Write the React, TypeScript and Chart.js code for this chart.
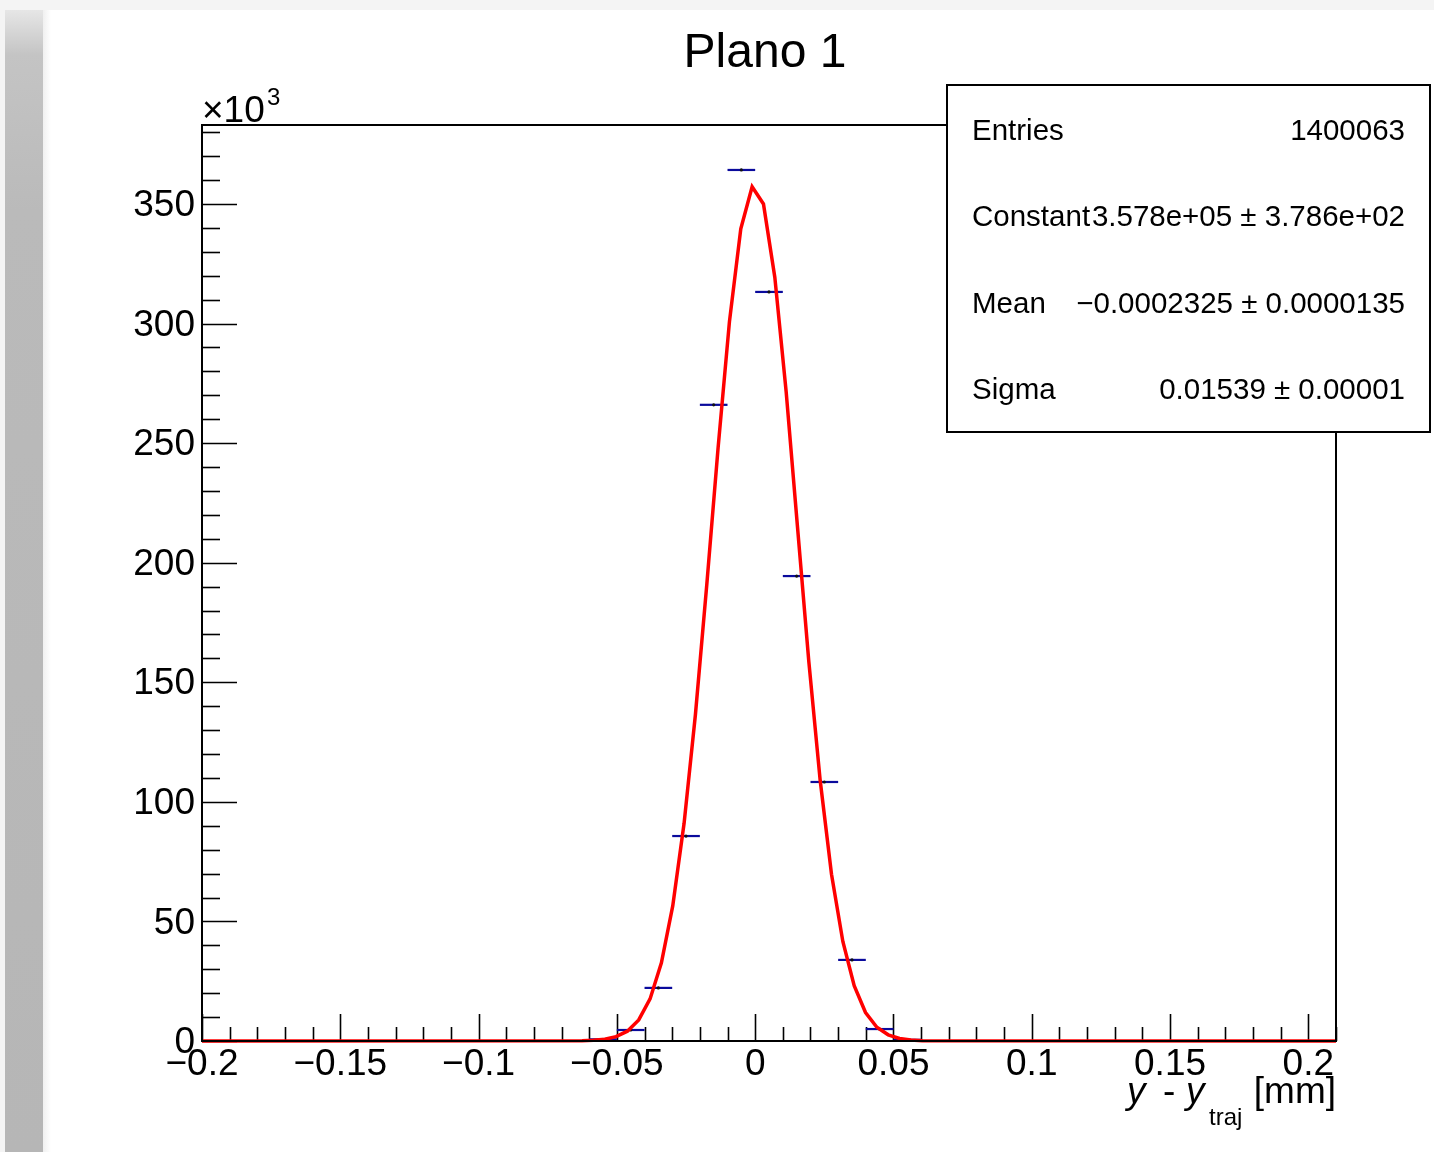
import React, { useEffect, useRef } from "react";
import { Chart, registerables } from "chart.js";

Chart.register(...registerables);

const FONT = "'Liberation Sans', Arial, Helvetica, sans-serif";

// Histogram bins (bin centre, counts), bin width 0.01 mm
const binCenters = [-0.055, -0.045, -0.035, -0.025, -0.015, -0.005, 0.005, 0.015, 0.025, 0.035, 0.045, 0.055];
const binCounts = [700, 4600, 22200, 85700, 266000, 364200, 313200, 194400, 108300, 33900, 5000, 500];
const binWidth = 0.01;

// Fitted Gaussian polyline as drawn (x, y)
const fitX = [
  -0.2, -0.0626, -0.0585, -0.0544, -0.0503, -0.0462, -0.0421, -0.038, -0.0339, -0.0298, -0.0257,
  -0.0216, -0.0175, -0.0134, -0.0093, -0.0052, -0.0011, 0.003, 0.0071, 0.0112, 0.0153, 0.0194,
  0.0235, 0.0276, 0.0317, 0.0358, 0.0399, 0.044, 0.0481, 0.0522, 0.0563, 0.0604, 0.21,
];
const fitY = [
  0, 100, 280, 730, 1800, 4100, 8800, 17600, 32700, 56500, 91000,
  136500, 190700, 248100, 300800, 339600, 357200, 350000, 319400, 271500, 215000, 158600,
  109000, 69700, 41600, 23100, 11900, 5750, 2580, 1080, 420, 150, 0,
];

const xRange = [-0.2, 0.21];
const yRange = [0, 383000];
const xTickValues = [-0.2, -0.15, -0.1, -0.05, 0, 0.05, 0.1, 0.15, 0.2];
const xTickLabels = ["\u22120.2", "\u22120.15", "\u22120.1", "\u22120.05", "0", "0.05", "0.1", "0.15", "0.2"];
const yTickValues = [0, 50000, 100000, 150000, 200000, 250000, 300000, 350000];
const yTickLabels = ["0", "50", "100", "150", "200", "250", "300", "350"];
const xMinorStep = 0.01;
const yMinorStep = 10000;

const titleText = "Plano 1";
const statsLabels = ["Entries", "Constant", "Mean", "Sigma"];
const statsValues = ["1400063", "3.578e+05 \u00b1 3.786e+02", "\u22120.0002325 \u00b1 0.0000135", "0.01539 \u00b1 0.00001"];

const BLUE = "#0a0a9c";
const RED = "#ff0000";

const rootPlugin = {
  id: "rootStyle",
  beforeDatasetsDraw(chart: any) {
    const ctx = chart.ctx;
    const ca = chart.chartArea;
    const xs = chart.scales.x;
    const ys = chart.scales.y;
    ctx.save();
    ctx.strokeStyle = "#000";
    ctx.lineWidth = 1.6;
    const nx = Math.round((xRange[1] - xRange[0]) / xMinorStep);
    for (let i = 0; i <= nx; i++) {
      const v = xRange[0] + i * xMinorStep;
      const major = i % 5 === 0;
      const px = Math.round(xs.getPixelForValue(v)) + 0.5;
      const len = major ? 27 : 14;
      ctx.beginPath();
      ctx.moveTo(px, ca.bottom);
      ctx.lineTo(px, ca.bottom - len);
      ctx.stroke();
    }
    const ny = Math.floor((yRange[1] - yRange[0]) / yMinorStep);
    for (let i = 0; i <= ny; i++) {
      const v = yRange[0] + i * yMinorStep;
      const major = i % 5 === 0;
      const py = Math.round(ys.getPixelForValue(v)) + 0.5;
      const len = major ? 35 : 18;
      ctx.beginPath();
      ctx.moveTo(ca.left, py);
      ctx.lineTo(ca.left + len, py);
      ctx.stroke();
    }
    ctx.restore();
  },
  afterDatasetsDraw(chart: any) {
    const ctx = chart.ctx;
    const ca = chart.chartArea;
    ctx.save();
    ctx.strokeStyle = "#000";
    ctx.lineWidth = 2;
    ctx.strokeRect(ca.left, ca.top, ca.right - ca.left, ca.bottom - ca.top);
    ctx.restore();
  },
  afterDraw(chart: any) {
    const ctx = chart.ctx;
    const ca = chart.chartArea;
    ctx.save();
    ctx.fillStyle = "#000";
    ctx.textBaseline = "alphabetic";

    ctx.font = `48px ${FONT}`;
    ctx.textAlign = "center";
    ctx.fillText(titleText, 765, 67);

    ctx.textAlign = "left";
    ctx.font = `37px ${FONT}`;
    ctx.fillText("\u00d710", ca.left, ca.top - 3);
    ctx.font = `24px ${FONT}`;
    ctx.fillText("3", ca.left + 65, ca.top - 20);

    const r = ca.right;
    const base = ca.bottom + 62;
    ctx.font = `italic 37px ${FONT}`;
    ctx.fillText("y", r - 209, base);
    ctx.font = `37px ${FONT}`;
    ctx.fillText("-", r - 173, base);
    ctx.font = `italic 37px ${FONT}`;
    ctx.fillText("y", r - 150, base);
    ctx.font = `24px ${FONT}`;
    ctx.fillText("traj", r - 127, base + 22);
    ctx.font = `37px ${FONT}`;
    ctx.textAlign = "right";
    ctx.fillText("[mm]", r, base);

    const bx = 947, by = 85, bw = 483, bh = 347;
    ctx.fillStyle = "#fff";
    ctx.fillRect(bx, by, bw, bh);
    ctx.strokeStyle = "#000";
    ctx.lineWidth = 2;
    ctx.strokeRect(bx, by, bw, bh);
    ctx.fillStyle = "#000";
    ctx.font = `29.5px ${FONT}`;
    const rowBase = [140, 226, 313, 399];
    for (let i = 0; i < statsLabels.length; i++) {
      ctx.textAlign = "left";
      ctx.fillText(statsLabels[i], 972, rowBase[i]);
      ctx.textAlign = "right";
      ctx.fillText(statsValues[i], 1405, rowBase[i]);
    }
    ctx.restore();
  },
};

function halfBinPx(ctx: any) {
  const s = ctx.chart.scales.x;
  if (!s) return 13;
  return Math.abs(s.getPixelForValue(binWidth / 2) - s.getPixelForValue(0));
}

export default function App() {
  const ref = useRef<HTMLCanvasElement>(null);

  useEffect(() => {
    if (!ref.current) return;
    const fitData = fitX.map((x, i) => ({ x, y: fitY[i] }));
    const binData = binCenters.map((x, i) => ({ x, y: binCounts[i] }));
    const chart = new Chart(ref.current, {
      type: "scatter",
      data: {
        datasets: [
          {
            label: "fit",
            data: fitData,
            showLine: true,
            borderColor: RED,
            borderWidth: 3.5,
            pointRadius: 0,
            tension: 0,
            clip: false,
          } as any,
          {
            label: "centres",
            data: binData,
            pointRadius: 1.6,
            pointBackgroundColor: "#111",
            pointBorderWidth: 0,
          } as any,
          {
            label: "bins",
            data: binData,
            pointStyle: "line",
            pointRadius: halfBinPx,
            pointBorderColor: BLUE,
            pointBackgroundColor: BLUE,
            pointBorderWidth: 2.2,
          } as any,
        ],
      },
      options: {
        animation: false,
        responsive: false,
        maintainAspectRatio: false,
        layout: { padding: { left: 0, top: 125, right: 98, bottom: 0 } },
        plugins: {
          legend: { display: false },
          tooltip: { enabled: false },
          title: { display: false },
        },
        scales: {
          x: {
            type: "linear",
            min: xRange[0],
            max: xRange[1],
            grid: { display: false, drawTicks: false },
            border: { display: false },
            afterBuildTicks: (s: any) => {
              s.ticks = xTickValues.map((value) => ({ value }));
            },
            afterFit: (s: any) => {
              s.height = 111;
            },
            ticks: {
              autoSkip: false,
              maxRotation: 0,
              minRotation: 0,
              padding: 2,
              color: "#000",
              font: { family: FONT, size: 37 },
              callback: (_v: any, i: number) => xTickLabels[i],
            },
          },
          y: {
            type: "linear",
            min: yRange[0],
            max: yRange[1],
            grid: { display: false, drawTicks: false },
            border: { display: false },
            afterBuildTicks: (s: any) => {
              s.ticks = yTickValues.map((value) => ({ value }));
            },
            afterFit: (s: any) => {
              s.width = 202;
            },
            ticks: {
              autoSkip: false,
              padding: 7,
              labelOffset: 2,
              color: "#000",
              font: { family: FONT, size: 37 },
              callback: (_v: any, i: number) => yTickLabels[i],
            },
          },
        },
      } as any,
      plugins: [rootPlugin],
    });
    return () => chart.destroy();
  }, []);

  return (
    <div
      style={{
        position: "fixed",
        left: 0,
        top: 0,
        width: 1434,
        height: 1152,
        background: "#f4f4f4",
        overflow: "hidden",
      }}
    >
      <div
        style={{
          position: "absolute",
          left: 5,
          top: 10,
          width: 38,
          height: 1142,
          background:
            "linear-gradient(to bottom, #e6e6e6 0px, #c4c4c4 45px, #bababa 200px, #b6b6b6 100%)",
        }}
      />
      <div
        style={{
          position: "absolute",
          left: 43,
          top: 10,
          width: 1391,
          height: 1142,
          background: "linear-gradient(to right, #f0f0f0 0px, #ffffff 8px)",
        }}
      />
      <canvas
        ref={ref}
        width={1434}
        height={1152}
        style={{ position: "absolute", left: 0, top: 0, width: 1434, height: 1152 }}
      />
    </div>
  );
}
